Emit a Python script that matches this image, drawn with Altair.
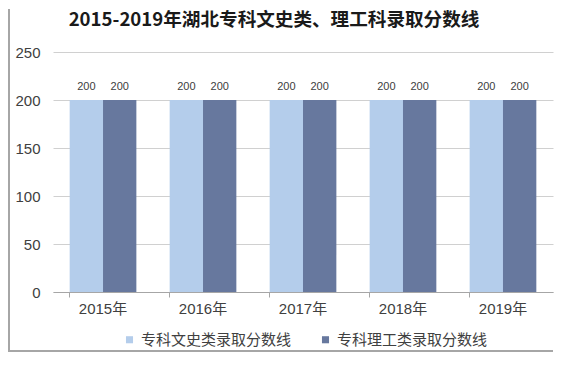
import altair as alt
import pandas as pd

years = ["2015年", "2016年", "2017年", "2018年", "2019年"]
series = ["专科文史类录取分数线", "专科理工类录取分数线"]
wenshi = [200, 200, 200, 200, 200]
ligong = [200, 200, 200, 200, 200]
colors = ["#b4cdeb", "#67789e"]
title_text = "2015-2019年湖北专科文史类、理工科录取分数线"

rows = []
for i, y in enumerate(years):
    rows.append({"year": y, "series": series[0], "value": wenshi[i]})
    rows.append({"year": y, "series": series[1], "value": ligong[i]})
df = pd.DataFrame(rows)

FONT = "Liberation Sans, Noto Sans CJK SC"

base = alt.Chart(df).encode(
    x=alt.X("year:N", sort=years, title=None,
            scale=alt.Scale(paddingInner=0.333, paddingOuter=0.1667),
            axis=alt.Axis(labelAngle=0, bandPosition=0, domainColor="#a6a6a6",
                          tickColor="#a6a6a6", tickSize=5, labelPadding=4,
                          labelFontSize=15, labelColor="#404040", labelFont=FONT)),
    xOffset=alt.XOffset("series:N", sort=series),
)

bars = base.mark_bar().encode(
    y=alt.Y("value:Q", title=None,
            scale=alt.Scale(domain=[0, 250], nice=False),
            axis=alt.Axis(values=[0, 50, 100, 150, 200, 250], domain=False, ticks=False,
                          gridColor="#d0d0d0", labelPadding=13, labelFontSize=15,
                          labelColor="#404040", labelFont=FONT)),
    color=alt.Color("series:N", sort=series,
                    scale=alt.Scale(domain=series, range=colors),
                    legend=alt.Legend(title=None, orient="none", direction="horizontal",
                                      legendX=69, legendY=280, symbolType="square",
                                      symbolSize=50, symbolStrokeWidth=0, labelFontSize=15,
                                      labelColor="#404040", labelFont="Noto Sans CJK SC",
                                      columnPadding=26, labelOffset=4, padding=0)),
)

labels = base.mark_text(baseline="bottom", dy=-8, fontSize=11, color="#404040", font=FONT).encode(
    y="value:Q",
    text="value:Q",
)

one = pd.DataFrame({"t": [title_text]})
title = alt.Chart(one).mark_text(font="Noto Sans CJK SC", fontSize=18.6, fontWeight="bold",
                                 color="#1a1a1a", baseline="middle", align="center").encode(
    x=alt.value(221), y=alt.value(-32), text="t:N")

left_border = alt.Chart(one).mark_rule(color="#a6a6a6", strokeWidth=2).encode(
    x=alt.value(-44), y=alt.value(-43), y2=alt.value(300))
bottom_border = alt.Chart(one).mark_rule(color="#a6a6a6", strokeWidth=2).encode(
    x=alt.value(-44), x2=alt.value(500), y=alt.value(299))

chart = alt.layer(bars, labels, title, left_border, bottom_border).properties(
    width=500, height=240,
    padding={"left": 0, "top": 0, "right": 0, "bottom": 0},
).configure_view(stroke=None)

chart.save("out.html", embed_options={"renderer": "svg", "actions": False})
